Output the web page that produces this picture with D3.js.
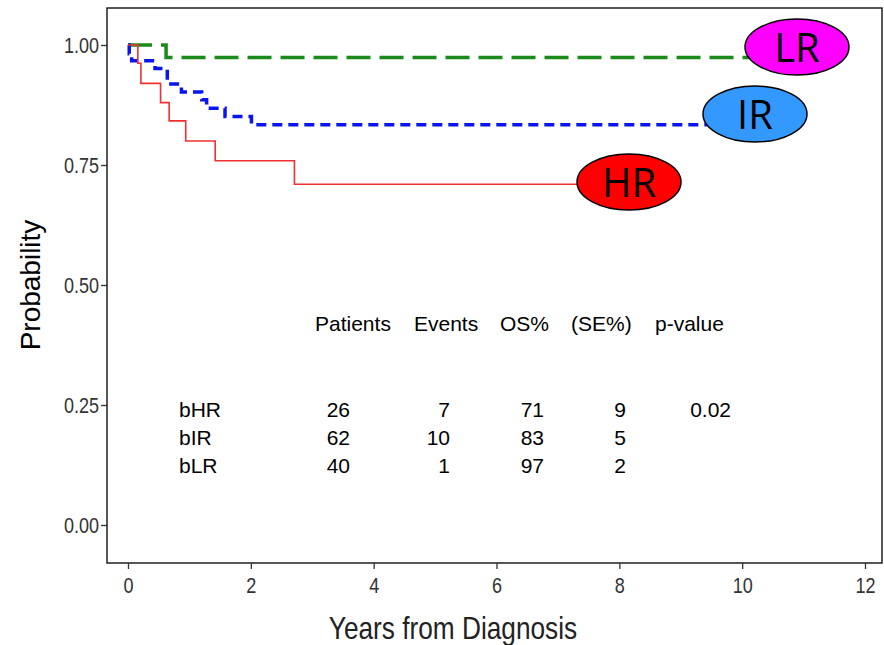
<!DOCTYPE html>
<html>
<head>
<meta charset="utf-8">
<script src="https://cdn.jsdelivr.net/npm/d3@7"></script>
<style>
  body { margin: 0; background: #fff; }
  svg { display: block; }
</style>
</head>
<body>
<svg id="chart"></svg>
<script>
// Data
const hrTime = [0, 0.16, 0.21, 0.53, 0.67, 0.94, 1.42, 2.71, 7.5];
const hrSurv = [1, 0.962, 0.92, 0.88, 0.842, 0.80, 0.759, 0.71, 0.71];
const irTime = [0, 0.02, 0.06, 0.44, 0.64, 0.87, 1.2, 1.28, 1.58, 2.01, 9.6];
const irSurv = [1, 0.982, 0.967, 0.951, 0.919, 0.902, 0.886, 0.868, 0.851, 0.834, 0.834];
const lrTime = [0, 0.62, 10.3];
const lrSurv = [1, 0.974, 0.974];

const groupLabels = ["HR", "IR", "LR"];
const tableRows = ["bHR", "bIR", "bLR"];
const tableHeader = ["Patients", "Events", "OS%", "(SE%)", "p-value"];
const patients = [26, 62, 40];
const events = [7, 10, 1];
const osPct = [71, 83, 97];
const sePct = [9, 5, 2];
const pValue = ["0.02", "", ""];

const xTicks = [0, 2, 4, 6, 8, 10, 12];
const yTicks = [0, 0.25, 0.5, 0.75, 1];

// Layout
const width = 884, height = 645;
const frame = { left: 107, right: 882, top: 8, bottom: 563 };
const narrow = 0.82; // horizontal squeeze to mimic a narrow sans

const svg = d3.select("#chart")
    .attr("width", width)
    .attr("height", height);

const x = d3.scaleLinear().domain([0, 12]).range([128, 865]);
const y = d3.scaleLinear().domain([0, 1]).range([525, 45]);

// frame
svg.append("rect")
    .attr("x", frame.left).attr("y", frame.top)
    .attr("width", frame.right - frame.left)
    .attr("height", frame.bottom - frame.top)
    .attr("fill", "none")
    .attr("stroke", "#111")
    .attr("stroke-width", 1.4);

// axes
const sans = "'Liberation Sans', Arial, sans-serif";

const yAxis = svg.append("g")
    .attr("transform", `translate(${frame.left},0)`)
    .call(d3.axisLeft(y).tickValues(yTicks).tickFormat(d3.format(".2f")).tickSize(6).tickPadding(0));
const xAxis = svg.append("g")
    .attr("transform", `translate(0,${frame.bottom})`)
    .call(d3.axisBottom(x).tickValues(xTicks).tickSize(6).tickPadding(8));

[xAxis, yAxis].forEach(g => {
    g.select(".domain").remove();
    g.selectAll(".tick line").attr("stroke", "#333").attr("stroke-width", 1.3);
    g.selectAll(".tick text")
        .attr("fill", "#333")
        .style("font-family", sans)
        .style("font-size", "22px");
});
yAxis.selectAll(".tick text")
    .attr("x", -8 / narrow)
    .attr("dy", "0.36em")
    .attr("transform", `scale(${narrow},1)`);
xAxis.selectAll(".tick text")
    .attr("transform", `scale(${narrow},1)`);

// axis titles
svg.append("text")
    .attr("transform", "translate(40,285) rotate(-90)")
    .attr("text-anchor", "middle")
    .style("font-family", sans)
    .style("font-size", "28px")
    .text("Probability");

svg.append("text")
    .attr("transform", `translate(453,639) scale(${narrow},1)`)
    .attr("text-anchor", "middle")
    .style("font-family", sans)
    .style("font-size", "32px")
    .attr("fill", "#222")
    .text("Years from Diagnosis");

// survival curves
const line = d3.line()
    .x(d => x(d[0]))
    .y(d => y(d[1]))
    .curve(d3.curveStepAfter);

const curves = [
    { t: lrTime, s: lrSurv, color: "#1a8a1a", w: 3.5, dash: "24,9" },
    { t: irTime, s: irSurv, color: "#0a14f0", w: 3.5, dash: "10,6" },
    { t: hrTime, s: hrSurv, color: "#f03030", w: 1.6, dash: null }
];

curves.forEach(c => {
    svg.append("path")
        .datum(c.t.map((t, i) => [t, c.s[i]]))
        .attr("d", line)
        .attr("fill", "none")
        .attr("stroke", c.color)
        .attr("stroke-width", c.w)
        .attr("stroke-dasharray", c.dash);
});

// group labels in ellipses
const bubbles = [
    { label: groupLabels[0], cx: 629, cy: 182, fill: "#ff0000" },
    { label: groupLabels[1], cx: 755, cy: 114, fill: "#3399ff" },
    { label: groupLabels[2], cx: 797, cy: 47, fill: "#ff00ff" }
];

bubbles.forEach(b => {
    svg.append("ellipse")
        .attr("cx", b.cx).attr("cy", b.cy)
        .attr("rx", 52).attr("ry", 28)
        .attr("fill", b.fill)
        .attr("stroke", "#000")
        .attr("stroke-width", 1.5);
    svg.append("text")
        .attr("x", b.cx).attr("y", b.cy + 15)
        .attr("text-anchor", "middle")
        .style("font-family", "'Open Sans', sans-serif")
        .style("font-size", "40px")
        .text(b.label);
});

// table
const headerX = [315, 414, 500, 571, 655];
tableHeader.forEach((h, i) => {
    svg.append("text")
        .attr("x", headerX[i]).attr("y", 331)
        .style("font-family", sans)
        .style("font-size", "21px")
        .text(h);
});

const colRight = [350, 450, 544, 626, 731];
const rowY = [417, 445, 473];
tableRows.forEach((r, i) => {
    svg.append("text")
        .attr("x", 179).attr("y", rowY[i])
        .style("font-family", sans)
        .style("font-size", "21px")
        .text(r);
    [patients[i], events[i], osPct[i], sePct[i], pValue[i]].forEach((v, j) => {
        svg.append("text")
            .attr("x", colRight[j]).attr("y", rowY[i])
            .attr("text-anchor", "end")
            .style("font-family", sans)
            .style("font-size", "21px")
            .text(v);
    });
});
</script>
</body>
</html>
